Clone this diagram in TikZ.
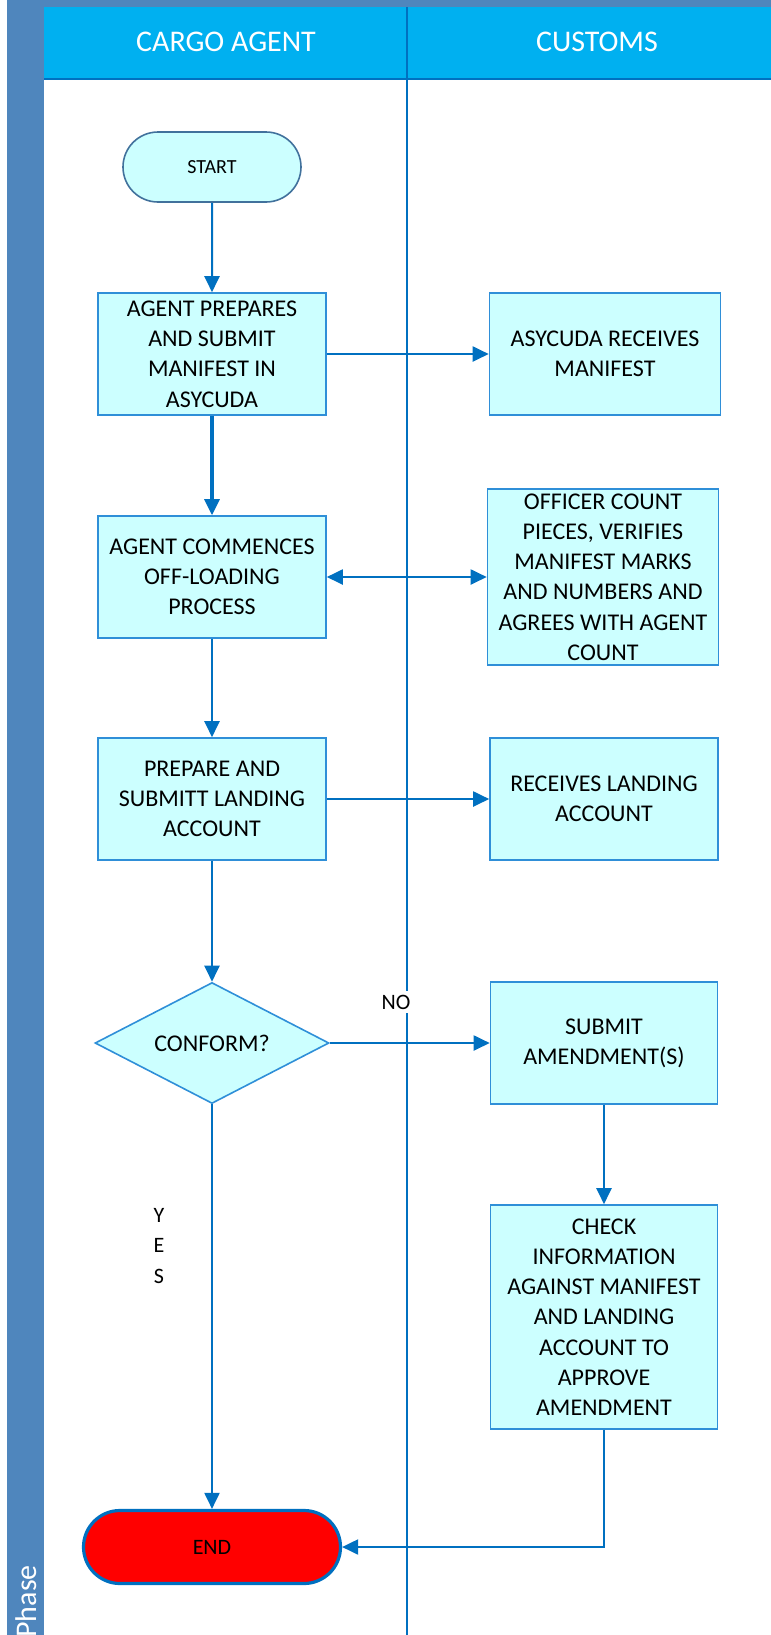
\documentclass[tikz,border=0pt]{standalone}
\usepackage{fontspec}
\setmainfont{Carlito}
\usetikzlibrary{arrows.meta,shapes.geometric,shapes.misc}

\definecolor{phaseband}{HTML}{4F86BD}
\definecolor{lanehead}{HTML}{00B0F0}
\definecolor{boxfill}{HTML}{CCFFFF}
\definecolor{boxline}{HTML}{2F8FD8}
\definecolor{linkblue}{HTML}{0070C0}
\definecolor{startline}{HTML}{41719C}

\tikzset{
  process/.style={rectangle, draw=boxline, fill=boxfill, line width=0.8pt,
    minimum width=114pt, minimum height=61pt, inner sep=1pt, align=center,
    font=\fontsize{12}{15.1}\selectfont},
  decision/.style={diamond, draw=boxline, fill=boxfill, line width=0.8pt,
    shape aspect=2, minimum width=117pt, minimum height=60.5pt, inner sep=0pt,
    font=\fontsize{12}{15.1}\selectfont},
  terminal/.style={rounded rectangle, line width=0.8pt, inner sep=0pt},
  link/.style={draw=linkblue, line width=1pt, -{Triangle[length=8pt,width=7.5pt]}},
  lanetitle/.style={text=white, font=\fontsize{15}{18}\selectfont},
  plainlabel/.style={font=\fontsize{11}{15.1}\selectfont, align=center},
}

\begin{document}
\begin{tikzpicture}[x=0.5pt,y=-0.5pt]
\useasboundingbox (0,0) rectangle (771,1635);

% pool and lanes
\fill[phaseband] (7,0) rectangle (771,7);
\fill[phaseband] (7,0) rectangle (44,1635);
\fill[lanehead] (44,7) rectangle (771,79);
\draw[linkblue, line width=0.6pt] (44,79) -- (771,79);
\draw[linkblue, line width=0.6pt] (407,7) -- (407,1635);
\node[lanetitle] (agentlane) at (226,42) {CARGO AGENT};
\node[lanetitle] (customslane) at (597,42) {CUSTOMS};
\node[lanetitle, rotate=90, anchor=west, inner sep=0pt] (phase) at (26,1638) {Phase};

% cargo agent
\node[terminal, draw=startline, fill=boxfill, minimum width=89pt, minimum height=35pt,
  font=\fontsize{10}{12}\selectfont] (start) at (212,167) {START};
\node[process] (prepare) at (212,354) {AGENT PREPARES\\AND SUBMIT\\MANIFEST IN\\ASYCUDA};
\node[process] (offload) at (212,577) {AGENT COMMENCES\\OFF-LOADING\\PROCESS};
\node[process] (landing) at (212,799) {PREPARE AND\\SUBMITT LANDING\\ACCOUNT};
\node[decision] (conform) at (212,1043) {CONFORM?};
\node[terminal, draw=linkblue, fill=red, line width=1.6pt, minimum width=128.5pt,
  minimum height=36.5pt, font=\fontsize{11}{13}\selectfont] (stop) at (212,1547) {END};

% customs
\node[process, minimum width=115.5pt] (receive) at (605,354) {ASYCUDA RECEIVES\\MANIFEST};
\node[process, minimum width=115.5pt, minimum height=88pt] (count) at (603,577)
  {OFFICER COUNT\\PIECES, VERIFIES\\MANIFEST MARKS\\AND NUMBERS AND\\AGREES WITH AGENT\\COUNT};
\node[process] (recland) at (604,799) {RECEIVES LANDING\\ACCOUNT};
\node[process, minimum width=113.5pt] (amend) at (604,1043) {SUBMIT\\AMENDMENT(S)};
\node[process, minimum width=113.5pt, minimum height=112pt] (check) at (604,1317)
  {CHECK\\INFORMATION\\AGAINST MANIFEST\\AND LANDING\\ACCOUNT TO\\APPROVE\\AMENDMENT};

% labels
\node[plainlabel, fill=white, inner sep=2pt] (no) at (396,1002) {NO};
\node[plainlabel] (yes) at (159,1246) {Y\\E\\S};

% connectors
\draw[link] (start) -- (prepare);
\draw[link] (prepare) -- (receive);
\draw[link, line width=1.6pt] (prepare) -- (offload);
\draw[link, {Triangle[length=8pt,width=7.5pt]}-{Triangle[length=8pt,width=7.5pt]}] (offload) -- (count);
\draw[link] (offload) -- (landing);
\draw[link] (landing) -- (recland);
\draw[link] (landing) -- (conform);
\draw[link] (conform) -- (amend);
\draw[link] (amend) -- (check);
\draw[link] (check) |- (stop);
\draw[link] (conform) -- (stop);

\end{tikzpicture}
\end{document}
